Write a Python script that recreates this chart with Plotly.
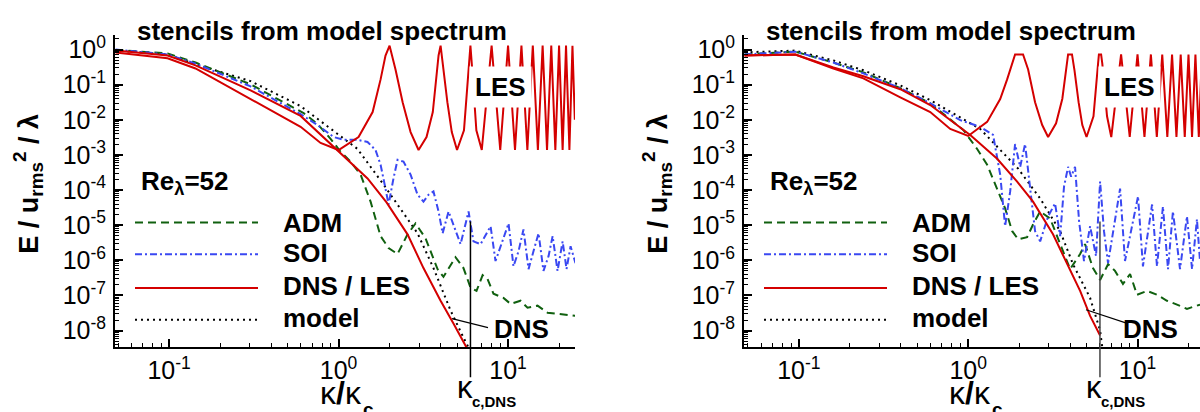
import numpy as np
import plotly.graph_objects as go

W, H = 1200, 412
FONT = "Liberation Sans, Arial, sans-serif"

# Spectra digitised as log10(kappa/kappa_c) and log10(E / u_rms^2 / lambda)
# ---------------- left panel ----------------
A_MODEL_LOGK = [-1.316, -1.009, -0.844, -0.519, -0.224, 0.029, 0.112, 0.265, 0.366, 0.466, 0.560, 0.661, 0.737, 0.767]
A_MODEL_LOGE = [-0.03, -0.14, -0.42, -0.90, -1.61, -2.54, -2.83, -3.84, -4.55, -5.23, -6.22, -7.43, -8.20, -8.48]

A_DNS_LOGK = [-1.316, -1.009, -0.844, -0.519, -0.224, -0.006, 0.171, 0.283, 0.407, 0.501, 0.602, 0.678, 0.755]
A_DNS_LOGE = [-0.03, -0.17, -0.45, -1.16, -1.89, -2.86, -3.67, -4.35, -5.26, -6.22, -7.15, -7.80, -8.48]

A_LES_LOGK = [-1.316, -1.009, -0.844, -0.519, -0.224, -0.106, 0.0, 0.118, 0.201, 0.248, 0.277, 0.301,
              0.336, 0.378, 0.425, 0.472, 0.519, 0.556, 0.576, 0.590, 0.602, 0.617, 0.642, 0.668, 0.699,
              0.740, 0.767, 0.778, 0.789, 0.813, 0.845, 0.903, 0.954, 1.000, 1.041, 1.079, 1.114, 1.146,
              1.176, 1.204, 1.230, 1.255, 1.279, 1.301, 1.322, 1.342, 1.362, 1.380, 1.394]
A_LES_LOGE = [-0.085, -0.25, -0.54, -1.41, -2.20, -2.66, -2.86, -2.49, -1.78, -0.85, -0.17, 0.11,
              -0.57, -1.50, -2.35, -2.86, -2.49, -1.78, -0.85, -0.17, 0.11, -0.57, -1.50, -2.35, -2.86,
              -2.30, -0.60, 0.11, -0.60, -2.30, -2.86, 0.11, -2.86, 0.11, -2.86, 0.11, -2.86, 0.11,
              -2.86, 0.11, -2.86, 0.11, -2.86, 0.11, -2.86, 0.11, -2.86, 0.11, -2.00]

A_ADM_LOGK = [-1.316, -1.009, -0.844, -0.519, -0.206, -0.124, -0.047, 0.012, 0.071, 0.130, 0.189, 0.248,
              0.295, 0.348, 0.407, 0.454, 0.513, 0.584, 0.619, 0.690, 0.737, 0.779, 0.814, 0.850, 0.879,
              0.914, 0.973, 1.015, 1.074, 1.115, 1.174, 1.233, 1.292, 1.398]
A_ADM_LOGE = [-0.01, -0.11, -0.37, -0.99, -1.81, -2.12, -2.54, -2.91, -3.19, -3.56, -4.33, -5.31,
              -5.65, -5.82, -5.26, -4.95, -5.37, -6.25, -6.47, -5.91, -6.22, -6.78, -6.87, -6.42, -6.53,
              -6.95, -7.07, -7.24, -7.15, -7.35, -7.29, -7.49, -7.52, -7.58]

A_SOI_LOGK = [-1.316, -1.009, -0.844, -0.519, -0.224, -0.124, -0.029, 0.029, 0.112, 0.171, 0.218, 0.248,
              0.277, 0.295, 0.324, 0.348, 0.383, 0.425, 0.466, 0.501, 0.531, 0.560, 0.590, 0.614, 0.649,
              0.690, 0.720, 0.767, 0.796, 0.838, 0.897, 0.926, 0.956, 1.003, 1.032, 1.062, 1.091, 1.121,
              1.150, 1.180, 1.209, 1.239, 1.263, 1.292, 1.322, 1.345, 1.369, 1.398]
A_SOI_LOGE = [0.0, -0.14, -0.40, -1.05, -1.84, -2.15, -2.49, -2.57, -2.57, -2.63, -2.86, -3.28,
              -3.96, -4.41, -3.67, -3.14, -3.19, -3.56, -4.13, -4.33, -4.13, -4.04, -4.61, -5.23, -4.61,
              -5.17, -5.54, -4.61, -5.46, -5.54, -5.03, -6.02, -5.60, -4.95, -6.17, -5.74, -5.12, -6.25,
              -5.74, -5.23, -6.30, -5.88, -5.31, -6.30, -5.46, -6.25, -5.60, -6.08]

# ---------------- right panel ----------------
B_MODEL_LOGK = [-1.321, -1.021, -0.796, -0.619, -0.401, -0.224, 0.071, 0.171, 0.295, 0.425, 0.543, 0.619, 0.720, 0.779, 0.792]
B_MODEL_LOGE = [-0.08, -0.03, -0.31, -0.59, -1.02, -1.44, -2.26, -2.77, -3.39, -4.24, -5.17, -6.11, -7.07, -8.00, -8.48]

B_DNS_LOGK = [-1.321, -1.021, -0.796, -0.619, -0.401, -0.224, 0.012, 0.171, 0.289, 0.383, 0.501, 0.584, 0.661, 0.720, 0.779]
B_DNS_LOGE = [-0.17, -0.14, -0.51, -0.76, -1.13, -1.58, -2.43, -3.11, -3.76, -4.33, -5.26, -6.11, -6.87, -7.58, -8.14]

B_LES_LOGK = [-1.321, -1.021, -0.796, -0.619, -0.401, -0.224, -0.106, 0.0, 0.112, 0.189, 0.230, 0.260,
              0.277, 0.324, 0.354, 0.395, 0.437, 0.472, 0.519, 0.556, 0.576, 0.590, 0.613, 0.628, 0.652,
              0.674, 0.699, 0.740, 0.767, 0.772, 0.785, 0.792, 0.820, 0.845, 0.903, 0.954, 1.000, 1.041,
              1.079, 1.114, 1.146, 1.176, 1.204, 1.230, 1.255, 1.279, 1.301, 1.322, 1.342, 1.362, 1.380]
B_LES_LOGE = [-0.17, -0.14, -0.54, -0.82, -1.36, -1.78, -2.26, -2.46, -2.06, -1.41, -0.85, -0.37,
              -0.14, -0.14, -0.57, -1.50, -2.15, -2.49, -2.10, -1.40, -0.70, -0.14, -0.14, -0.60, -1.50,
              -2.15, -2.49, -1.90, -0.40, -0.14, -0.14, -0.40, -1.90, -2.49, -0.14, -2.49, -0.14, -2.49,
              -0.14, -2.49, -0.14, -2.49, -0.14, -2.49, -0.14, -2.49, -0.14, -2.49, -0.14, -2.49, -0.14]

B_ADM_LOGK = [-1.321, -1.021, -0.796, -0.619, -0.401, -0.224, -0.029, 0.053, 0.112, 0.171, 0.218, 0.260,
              0.295, 0.348, 0.383, 0.425, 0.484, 0.560, 0.602, 0.661, 0.690, 0.737, 0.779, 0.826, 0.867,
              0.914, 0.956, 0.997, 1.056, 1.115, 1.174, 1.233, 1.292, 1.369]
B_ADM_LOGE = [-0.14, -0.06, -0.37, -0.65, -1.10, -1.53, -2.29, -2.83, -3.28, -3.96, -4.52, -5.17,
              -5.40, -5.34, -4.98, -4.61, -4.81, -5.74, -6.25, -5.82, -5.54, -6.22, -6.56, -6.11, -6.30,
              -6.67, -6.39, -6.98, -6.87, -6.98, -7.15, -7.26, -7.38, -7.26]

B_SOI_LOGK = [-1.321, -1.021, -0.796, -0.619, -0.401, -0.224, -0.047, 0.071, 0.147, 0.189, 0.218, 0.248,
              0.277, 0.307, 0.336, 0.366, 0.395, 0.425, 0.472, 0.513, 0.543, 0.566, 0.590, 0.608, 0.631,
              0.655, 0.684, 0.720, 0.755, 0.779, 0.802, 0.826, 0.861, 0.897, 0.926, 0.962, 1.003, 1.032,
              1.062, 1.086, 1.115, 1.133, 1.150, 1.180, 1.209, 1.251, 1.292, 1.322, 1.351, 1.369]
B_SOI_LOGE = [-0.14, -0.06, -0.37, -0.68, -1.10, -1.53, -2.01, -2.20, -2.43, -3.56, -5.03, -4.04,
              -2.69, -3.34, -2.69, -3.90, -5.17, -5.46, -4.75, -4.38, -5.31, -3.90, -3.34, -3.62, -3.34,
              -4.89, -6.02, -5.03, -5.88, -3.76, -5.17, -6.08, -5.03, -3.96, -6.02, -5.17, -4.18, -6.17,
              -5.23, -4.41, -6.17, -5.31, -4.47, -6.25, -4.61, -6.25, -4.75, -6.25, -4.83, -6.02]

KC_DNS = 6.0
LEGEND_LABELS = ["ADM", "SOI", "DNS / LES", "model"]
X_TICKS = [0.1, 1, 10]
X_TICKTEXT = ["10<sup>-1</sup>", "10<sup>0</sup>", "10<sup>1</sup>"]
Y_TICKS = [10.0 ** e for e in range(-8, 1)]
Y_TICKTEXT = [f"10<sup>{e}</sup>" for e in range(-8, 1)]

RED = "#d40000"
GREEN = "#10600f"
BLUE = "#3a48f2"
BLACK = "#000000"

STYLE = {
    "model": dict(color=BLACK, width=2, dash="2px,4px"),
    "adm": dict(color=GREEN, width=2, dash="8px,5px"),
    "soi": dict(color=BLUE, width=2, dash="7px,3px,2px,3px"),
    "dns": dict(color=RED, width=2),
    "les": dict(color=RED, width=2),
}

panels = [
    dict(xa="x", ya="y",
         series=[("model", A_MODEL_LOGK, A_MODEL_LOGE), ("adm", A_ADM_LOGK, A_ADM_LOGE),
                 ("soi", A_SOI_LOGK, A_SOI_LOGE), ("dns", A_DNS_LOGK, A_DNS_LOGE),
                 ("les", A_LES_LOGK, A_LES_LOGE)],
         dom=(115, 575), xr=(-1.319, 1.395), ox=0),
    dict(xa="x2", ya="y2",
         series=[("model", B_MODEL_LOGK, B_MODEL_LOGE), ("adm", B_ADM_LOGK, B_ADM_LOGE),
                 ("soi", B_SOI_LOGK, B_SOI_LOGE), ("dns", B_DNS_LOGK, B_DNS_LOGE),
                 ("les", B_LES_LOGK, B_LES_LOGE)],
         dom=(744, 1200), xr=(-1.324, 1.369), ox=629),
]

fig = go.Figure()
for p in panels:
    for key, lk, le in p["series"]:
        fig.add_trace(go.Scatter(
            x=10.0 ** np.array(lk), y=10.0 ** np.array(le), mode="lines",
            line=STYLE[key], xaxis=p["xa"], yaxis=p["ya"], showlegend=False,
            hoverinfo="skip"))


def px(xp):
    return xp / W


def py(yp):
    return 1 - yp / H


x_minor = [m * 10.0 ** e for e in range(-2, 2) for m in range(2, 10)]
y_minor = [m * 10.0 ** e for e in range(-9, 1) for m in range(2, 10)]

Y_TOP, Y_BOT = 32, 347
common = dict(type="log", showline=True, linecolor="black", linewidth=2, ticks="inside",
              ticklen=8, tickwidth=1.5, tickcolor="black", showgrid=False, zeroline=False,
              tickfont=dict(family=FONT, size=25, color="black"), tickmode="array")

for i, p in enumerate(panels):
    sfx = "" if i == 0 else "2"
    fig.update_layout({
        f"xaxis{sfx}": dict(common, domain=[px(p["dom"][0]), px(p["dom"][1])], range=list(p["xr"]),
                            anchor=f"y{sfx}", tickvals=X_TICKS, ticktext=X_TICKTEXT,
                            minor=dict(ticks="inside", ticklen=4, tickwidth=1, tickcolor="black",
                                       tickmode="array", tickvals=x_minor, showgrid=False)),
        f"yaxis{sfx}": dict(common, domain=[py(Y_BOT), py(Y_TOP)], range=[-8.48, 0.42],
                            anchor=f"x{sfx}", tickvals=Y_TICKS, ticktext=Y_TICKTEXT,
                            ticklabelstandoff=2,
                            minor=dict(ticks="inside", ticklen=4, tickwidth=1, tickcolor="black",
                                       tickmode="array", tickvals=y_minor, showgrid=False)),
    })

annotations = []
shapes = []


def ann(text, x, y, size=26, xanchor="center", yanchor="middle", **kw):
    annotations.append(dict(text=text, x=px(x), y=py(y), xref="paper", yref="paper",
                            xanchor=xanchor, yanchor=yanchor, showarrow=False,
                            font=dict(family=FONT, size=size, color="black"), **kw))


legend_y = [221, 253, 287, 319]
label_y = [222, 252, 285, 317]
legend_keys = ["adm", "soi", "dns", "model"]

for i, p in enumerate(panels):
    o = p["ox"]
    sfx = "" if i == 0 else "2"
    ann("<b>stencils from model spectrum</b>", 322 + o, 28, size=26)
    ann("<b>E / u<sub>rms</sub><sup>2</sup> / λ</b>", 28 + o, 182, size=27, textangle=-90)
    ann("<b>Re<sub>λ</sub>=52</b>", 139 + o, 181, size=26, xanchor="left")
    ann("<b>LES</b>", 500 + o, 85, size=26, bgcolor="white", borderpad=5)
    ann("<b>DNS</b>", 492 + o, 328, size=26, xanchor="left")
    # kappa_c,DNS label under the marker line
    ann("κ", 455 + o, 387, size=31, xanchor="left")
    ann("<b>c,DNS</b>", 470 + o, 401, size=15, xanchor="left")
    # x-axis title kappa / kappa_c
    ann("κ<b>/</b>κ", 318 + o, 393, size=32, xanchor="left")
    ann("<b>c</b>", 361 + o, 409, size=19, xanchor="left")
    for key, lab, ly, ty in zip(legend_keys, LEGEND_LABELS, legend_y, label_y):
        st = STYLE[key]
        shapes.append(dict(type="line", xref="paper", yref="paper",
                           x0=px(135 + o), x1=px(258 + o), y0=py(ly), y1=py(ly),
                           line=dict(color=st["color"], width=2, dash=st.get("dash", "solid"))))
        ann(f"<b>{lab}</b>", 281 + o, ty, size=26, xanchor="left")
    # kappa_c,DNS marker line
    shapes.append(dict(type="line", xref=f"x{sfx}", yref="paper",
                       x0=KC_DNS, x1=KC_DNS, y0=py(377), y1=py(220),
                       line=dict(color="black" if i == 0 else "#444444", width=1.5)))

# pointers from the DNS label to the DNS curve
shapes.append(dict(type="line", xref="paper", yref="paper", x0=px(452), y0=py(318),
                   x1=px(488), y1=py(327), line=dict(color="black", width=1.2)))
shapes.append(dict(type="line", xref="paper", yref="paper", x0=px(1086), y0=py(309),
                   x1=px(1128), y1=py(323), line=dict(color="black", width=1.2)))

fig.update_layout(width=W, height=H, autosize=False, margin=dict(l=0, r=0, t=0, b=0),
                  paper_bgcolor="white", plot_bgcolor="white", showlegend=False,
                  annotations=annotations, shapes=shapes,
                  font=dict(family=FONT, color="black"))

fig.write_html("out.html")
